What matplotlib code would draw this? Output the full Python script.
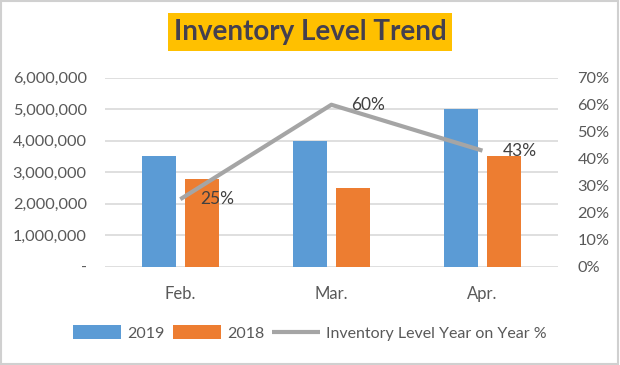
import matplotlib
matplotlib.use("Agg")
import matplotlib.pyplot as plt
from matplotlib.patches import Rectangle
from matplotlib.ticker import FuncFormatter
import numpy as np

plt.rcParams['font.family'] = ['Lato', 'DejaVu Sans']

categories = ["Feb.", "Mar.", "Apr."]
inv_2019 = [3500000, 4000000, 5000000]
inv_2018 = [2800000, 2500000, 3500000]
yoy_pct = [0.25, 0.60, 0.43]
yoy_labels = ["25%", "60%", "43%"]
left_ticks = [0, 1000000, 2000000, 3000000, 4000000, 5000000, 6000000]
right_ticks = [0, 0.1, 0.2, 0.3, 0.4, 0.5, 0.6, 0.7]

BLUE = "#5B9BD5"
ORANGE = "#ED7D31"
GRAY = "#A5A5A5"
TXT = "#595959"
GRID = "#D9D9D9"

fig = plt.figure(figsize=(6.2, 3.65), dpi=100)
fig.patches.append(Rectangle((0.002, 0.003), 0.995, 0.993, transform=fig.transFigure,
                             fill=False, edgecolor="#D0D0D0", linewidth=1.5))
ax = fig.add_axes([0.169, 0.2693, 0.731, 0.5177])
x = np.arange(len(categories))
w = 0.225
off = 0.142
ax.bar(x - off, inv_2019, w, color=BLUE, label="2019", zorder=2)
ax.bar(x + off, inv_2018, w, color=ORANGE, label="2018", zorder=2)
ax.set_xlim(-0.5, 2.5)
ax.set_ylim(0, 6000000)
ax.set_yticks(left_ticks)
ax.yaxis.set_major_formatter(FuncFormatter(lambda v, p: "-" if v == 0 else f"{int(v):,}"))
ax.set_xticks(x)
ax.set_xticklabels(categories)
ax.grid(axis="y", color=GRID, linewidth=1.2, zorder=0)
ax.set_axisbelow(True)
for s in ax.spines.values():
    s.set_visible(False)
ax.tick_params(axis="y", length=0, pad=13, labelsize=11.8, labelcolor=TXT)
ax.tick_params(axis="x", length=0, pad=14, labelsize=12, labelcolor=TXT)

ax2 = ax.twinx()
ax2.set_ylim(0, 0.7)
ax2.set_yticks(right_ticks)
ax2.yaxis.set_major_formatter(FuncFormatter(lambda v, p: f"{v*100:.0f}%"))
for s in ax2.spines.values():
    s.set_visible(False)
ax2.tick_params(axis="y", length=0, pad=14, labelsize=11.8, labelcolor=TXT)
line, = ax2.plot(x, yoy_pct, color=GRAY, linewidth=3, solid_capstyle="butt",
                 label="Inventory Level Year on Year %", zorder=3)
for xi, yi, lab in zip(x, yoy_pct, yoy_labels):
    ax2.annotate(lab, (xi, yi), xytext=(20, 0), textcoords="offset pixels",
                 ha="left", va="center", fontsize=12.5, color="#404040")

h1, l1 = ax.get_legend_handles_labels()
leg = fig.legend(h1 + [line], l1 + [line.get_label()], loc="center",
                 bbox_to_anchor=(0.5, 1 - 333/365), ncol=3, frameon=False,
                 fontsize=11.5, labelcolor=TXT, handlelength=3.0, handleheight=0.9,
                 columnspacing=0.5, handletextpad=0.4)

fig.text(0.5, 1 - 32/365, "Inventory Level Trend", ha="center", va="center",
         fontsize=20, fontweight="bold", color="#44404F",
         bbox=dict(boxstyle="square,pad=0.22", facecolor="#FFC000", edgecolor="none"))

fig.savefig("out.png", dpi=100, facecolor="white")
